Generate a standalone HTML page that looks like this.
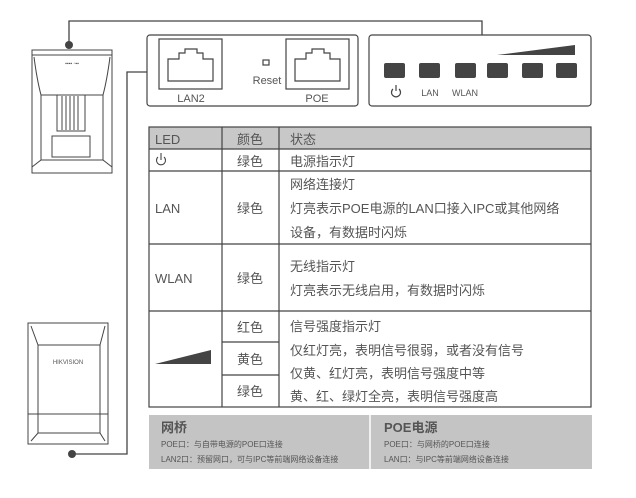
<!DOCTYPE html>
<html><head><meta charset="utf-8"><style>
body{margin:0;background:#fff;}
svg{display:block}
text{font-family:"Liberation Sans","Noto Sans CJK SC",sans-serif;fill:#555}
</style></head><body>
<svg width="636" height="498" viewBox="0 0 636 498" xmlns="http://www.w3.org/2000/svg">
<g stroke="#444" fill="none" stroke-width="1.3">
<polyline points="69,45 69,21 482,21 482,35"/>
<polyline points="147,72 127,72 127,454 72,454"/>
</g>
<circle cx="69" cy="45" r="4" fill="#444"/>
<circle cx="72" cy="454" r="4" fill="#444"/>
<!-- top device -->
<g stroke="#444" fill="none" stroke-width="1">
<rect x="32" y="50" width="80" height="123"/>
<line x1="32" y1="55" x2="112" y2="55"/>
<path d="M34,57 Q37,80 41,95 L103,95 Q107,80 110,57"/>
<line x1="41" y1="95" x2="41" y2="160"/><line x1="103" y1="95" x2="103" y2="160"/>
<rect x="57" y="95" width="28" height="36"/>
<line x1="62" y1="96" x2="62" y2="130"/><line x1="66" y1="96" x2="66" y2="130"/><line x1="70" y1="96" x2="70" y2="130"/><line x1="74" y1="96" x2="74" y2="130"/><line x1="78" y1="96" x2="78" y2="130"/>
<rect x="52" y="136" width="38" height="21"/>
<path d="M32,167 L41,160 L103,160 L112,167"/>
</g>
<text x="72" y="65" font-size="5" text-anchor="middle" fill="#333">▪▪▪▪ ▫▪▪</text>
<!-- bottom device -->
<g stroke="#444" fill="none" stroke-width="1">
<rect x="28" y="323" width="80" height="121"/>
<path d="M31,326 L38,345 L100,345 L105,326"/>
<line x1="38" y1="345" x2="38" y2="433"/><line x1="100" y1="345" x2="100" y2="433"/>
<line x1="28" y1="414" x2="108" y2="414"/>
<path d="M31,441 L38,433 L100,433 L105,441"/>
</g>
<text x="68" y="364" font-size="6" text-anchor="middle" fill="#333" font-family="Liberation Serif">HIKVISION</text>
<!-- panel 1 -->
<g stroke="#444" fill="none" stroke-width="1.2">
<rect x="147" y="35" width="211" height="71" rx="3"/>
<rect x="159" y="39" width="63" height="50"/>
<path d="M168,81 L168,59 L179,59 L179,53 L185,53 L185,49 L197,49 L197,53 L203,53 L203,59 L213,59 L213,81 Z"/>
<rect x="286" y="39" width="63" height="50"/>
<path d="M295,81 L295,59 L306,59 L306,53 L312,53 L312,49 L324,49 L324,53 L330,53 L330,59 L340,59 L340,81 Z"/>
<rect x="263" y="60" width="6" height="5"/>
<rect x="369" y="35" width="222" height="71" rx="3"/>
</g>
<text x="267" y="84" font-size="11" text-anchor="middle">Reset</text>
<text x="191" y="102" font-size="11" text-anchor="middle">LAN2</text>
<text x="317" y="102" font-size="11" text-anchor="middle">POE</text>
<!-- LEDs -->
<g fill="#444">
<rect x="384" y="63" width="21" height="15" rx="2"/>
<rect x="419" y="63" width="21" height="15" rx="2"/>
<rect x="455" y="63" width="21" height="15" rx="2"/>
<rect x="487" y="63" width="21" height="15" rx="2"/>
<rect x="522" y="63" width="21" height="15" rx="2"/>
<rect x="556" y="63" width="21" height="15" rx="2"/>
<polygon points="497,55 575,45 575,55"/>
</g>
<g stroke="#444" fill="none" stroke-width="1.2">
<path d="M393,89 A4.5,4.5 0 1 0 399,89"/><line x1="396" y1="85" x2="396" y2="91"/>
</g>
<text x="430" y="96" font-size="9" text-anchor="middle">LAN</text>
<text x="465" y="96" font-size="9" text-anchor="middle">WLAN</text>
<!-- table -->
<rect x="149" y="127" width="442" height="22" fill="#c8c8c8"/>
<g stroke="#444" fill="none" stroke-width="1.2">
<rect x="149" y="127" width="442" height="280"/>
<line x1="222" y1="127" x2="222" y2="407"/>
<line x1="279" y1="127" x2="279" y2="407"/>
<line x1="149" y1="149" x2="591" y2="149"/>
<line x1="149" y1="171" x2="591" y2="171"/>
<line x1="149" y1="244" x2="591" y2="244"/>
<line x1="149" y1="311" x2="591" y2="311"/>
<line x1="222" y1="342" x2="279" y2="342"/>
<line x1="222" y1="375" x2="279" y2="375"/>
</g>
<polygon points="155,364 211,350 211,364" fill="#444"/>
<g stroke="#444" fill="none" stroke-width="1.1">
<path d="M158,157 A4.5,4.5 0 1 0 164,157"/><line x1="161" y1="153" x2="161" y2="160"/>
</g>
<g font-size="13">
<text x="155" y="144">LED</text>
<text x="250" y="144" text-anchor="middle">颜色</text>
<text x="290" y="144">状态</text>
<text x="250" y="166" text-anchor="middle">绿色</text>
<text x="290" y="166">电源指示灯</text>
<text x="155" y="213">LAN</text>
<text x="250" y="213" text-anchor="middle">绿色</text>
<text x="290" y="189">网络连接灯</text>
<text x="290" y="213">灯亮表示POE电源的LAN口接入IPC或其他网络</text>
<text x="290" y="237">设备，有数据时闪烁</text>
<text x="155" y="283">WLAN</text>
<text x="250" y="283" text-anchor="middle">绿色</text>
<text x="290" y="271">无线指示灯</text>
<text x="290" y="295">灯亮表示无线启用，有数据时闪烁</text>
<text x="250" y="332" text-anchor="middle">红色</text>
<text x="250" y="364" text-anchor="middle">黄色</text>
<text x="250" y="396" text-anchor="middle">绿色</text>
<text x="290" y="331">信号强度指示灯</text>
<text x="290" y="355">仅红灯亮，表明信号很弱，或者没有信号</text>
<text x="290" y="378">仅黄、红灯亮，表明信号强度中等</text>
<text x="290" y="401">黄、红、绿灯全亮，表明信号强度高</text>
</g>
<!-- bottom gray box -->
<rect x="149" y="415" width="443" height="54" fill="#c4c4c4"/>
<line x1="370" y1="415" x2="370" y2="469" stroke="#fff" stroke-width="1.5"/>
<text x="161" y="432" font-size="13" font-weight="bold" fill="#555">网桥</text>
<text x="161" y="447" font-size="8" fill="#777">POE口：与自带电源的POE口连接</text>
<text x="161" y="462" font-size="8" fill="#777">LAN2口：预留网口，可与IPC等前端网络设备连接</text>
<text x="384" y="432" font-size="13" font-weight="bold" fill="#555">POE电源</text>
<text x="384" y="447" font-size="8" fill="#777">POE口：与网桥的POE口连接</text>
<text x="384" y="462" font-size="8" fill="#777">LAN口：与IPC等前端网络设备连接</text>
</svg>
</body></html>
